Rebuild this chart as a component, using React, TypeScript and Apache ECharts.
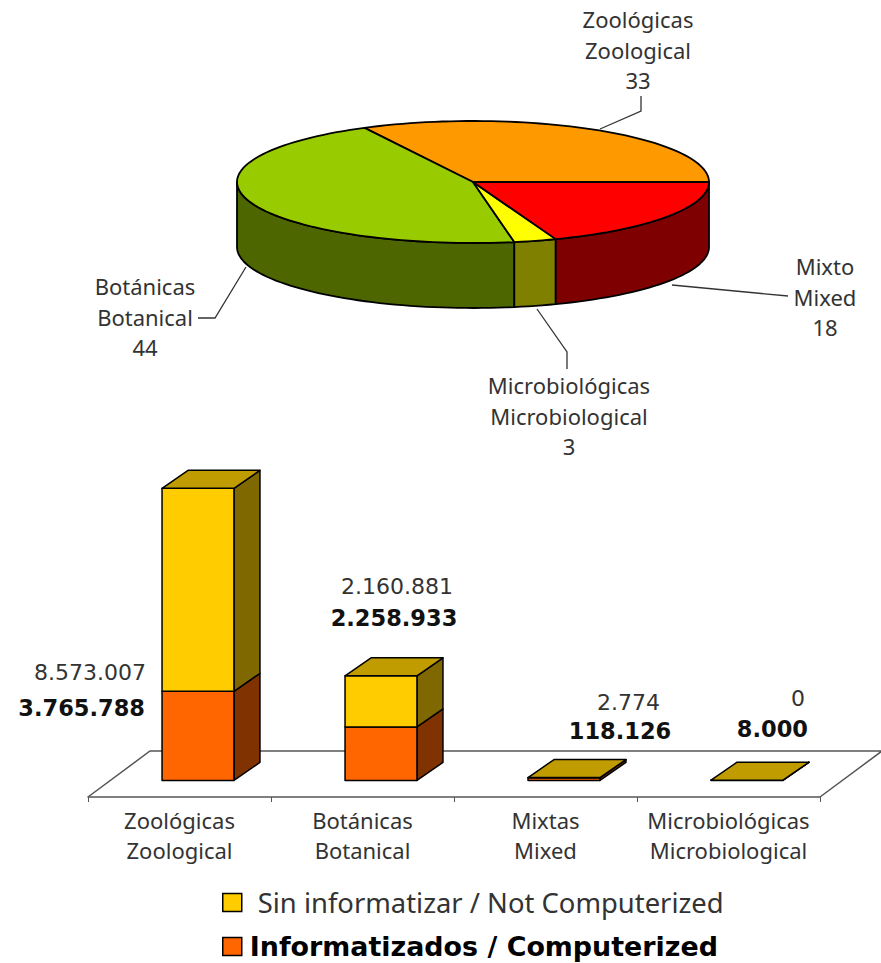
import React, { useEffect, useRef } from "react";
import * as echarts from "echarts";

// ---- data ----
const pieNames = [
  ["Zoológicas", "Zoological"],
  ["Botánicas", "Botanical"],
  ["Microbiológicas", "Microbiological"],
  ["Mixto", "Mixed"],
];
const pieLabelValues = [33, 44, 3, 18];
const pieSliceShares = [32.6, 45.2, 2.9, 19.3];
const pieTopColors = ["#FF9900", "#99CC00", "#FFFF00", "#FF0000"];
const pieSideColors = ["#7F4C00", "#4D6600", "#7F7F00", "#7F0000"];

const barCategories = [
  "Zoológicas\nZoological",
  "Botánicas\nBotanical",
  "Mixtas\nMixed",
  "Microbiológicas\nMicrobiological",
];
const notComputerized = [8573007, 2160881, 2774, 0];
const computerized = [3765788, 2258933, 118126, 8000];
const notName = "Sin informatizar / Not Computerized";
const compName = "Informatizados / Computerized";

// ---- layout ----
const PIE = { cx: 473, cy: 182, rx: 236, ry: 61, depth: 65 };
const BAR_DX = 26;
const BAR_DY = -18;
const BAR_SHIFT = 18.5;
const FLOOR_DX = 62;
const FLOOR_DY = -46;
const FONT = "'Noto Sans', sans-serif";
const NUM = "'DejaVu Sans', sans-serif";
const BOLD = "'DejaVu Sans', sans-serif";
const INK = "#333";

const pieTextLayout = [
  { x: 638, y: 19, line: [[600, 129], [641, 111], [641, 96]] },
  { x: 145, y: 286, line: [[246, 267], [215, 318], [198, 318]] },
  { x: 569, y: 385, line: [[537, 309], [567, 352], [567, 369]] },
  { x: 825, y: 266, line: [[672, 285], [788, 296]] },
];
const barTextLayout = [
  { a: [146, 672, "right"], b: [145, 708, "right"] },
  { a: [397, 586, "center"], b: [394, 618, "center"] },
  { a: [660, 702, "right"], b: [620, 731, "center"] },
  { a: [805, 698, "right"], b: [808, 729, "right"] },
];

const dotted = (v: number) => String(v).replace(/\B(?=(\d{3})+$)/g, ".");

function pt(deg: number, dy = 0) {
  const a = (deg * Math.PI) / 180;
  return [PIE.cx + PIE.rx * Math.cos(a), PIE.cy - PIE.ry * Math.sin(a) + dy];
}
function arc(a0: number, a1: number, dy = 0) {
  const out: number[][] = [];
  const n = Math.max(2, Math.ceil(Math.abs(a1 - a0) / 2));
  for (let i = 0; i <= n; i++) out.push(pt(a0 + ((a1 - a0) * i) / n, dy));
  return out;
}

const renderPie = (_p: any, api: any) => {
  const share0 = api.value(0);
  const share = api.value(1);
  const idx = api.value(2);
  const total = pieSliceShares.reduce((s, v) => s + v, 0);
  const a0 = (share0 / total) * 360;
  const a1 = ((share0 + share) / total) * 360;
  const stroke = { stroke: "#000", lineWidth: 1.8, lineJoin: "round" };
  const children: any[] = [];
  const s0 = Math.max(a0, 180);
  if (a1 > s0) {
    children.push({
      type: "polygon",
      shape: { points: [...arc(s0, a1), ...arc(a1, s0, PIE.depth)] },
      style: { fill: pieSideColors[idx], ...stroke },
    });
  }
  children.push({
    type: "polygon",
    shape: { points: [[PIE.cx, PIE.cy], ...arc(a0, a1)] },
    style: { fill: pieTopColors[idx], ...stroke },
  });
  return { type: "group", children };
};

const renderFloor = (p: any) => {
  const { x, y, width, height } = p.coordSys;
  const bottom = y + height;
  const style = { stroke: "#555", lineWidth: 1.5, fill: "none" };
  return {
    type: "group",
    children: [
      {
        type: "polyline",
        shape: {
          points: [
            [x, bottom],
            [x + FLOOR_DX, bottom + FLOOR_DY],
            [x + width + FLOOR_DX, bottom + FLOOR_DY],
            [x + width, bottom],
          ],
        },
        style,
      },
    ],
  };
};

const makeBarRender = (front: string, side: string, top: string | null) => (_p: any, api: any) => {
  const c = api.value(0);
  const p0 = api.coord([c, api.value(1)]);
  const p1 = api.coord([c, api.value(2)]);
  const w = api.size([1, 0])[0] * 0.393;
  const xl = p0[0] + BAR_SHIFT - w / 2;
  const xr = xl + w;
  const stroke = { stroke: "#000", lineWidth: 1.5, lineJoin: "round" };
  const children: any[] = [
    {
      type: "polygon",
      shape: {
        points: [
          [xr, p0[1]],
          [xr + BAR_DX, p0[1] + BAR_DY],
          [xr + BAR_DX, p1[1] + BAR_DY],
          [xr, p1[1]],
        ],
      },
      style: { fill: side, ...stroke },
    },
    {
      type: "polygon",
      shape: { points: [[xl, p0[1]], [xr, p0[1]], [xr, p1[1]], [xl, p1[1]]] },
      style: { fill: front, ...stroke },
    },
  ];
  if (top) {
    children.push({
      type: "polygon",
      shape: {
        points: [
          [xl, p1[1]],
          [xr, p1[1]],
          [xr + BAR_DX, p1[1] + BAR_DY],
          [xl + BAR_DX, p1[1] + BAR_DY],
        ],
      },
      style: { fill: top, ...stroke },
    });
  }
  return { type: "group", children };
};

function pieGraphics() {
  const els: any[] = [];
  pieNames.forEach((names, i) => {
    const l = pieTextLayout[i];
    els.push({
      type: "polyline",
      silent: true,
      shape: { points: l.line },
      style: { stroke: "#333", lineWidth: 1.3, fill: "none" },
    });
    [...names, String(pieLabelValues[i])].forEach((t, j) => {
      els.push({
        type: "text",
        silent: true,
        x: l.x,
        y: l.y + j * 30.5,
        style: { text: t, fill: INK, font: `22px ${FONT}`, textAlign: "center", textVerticalAlign: "middle" },
      });
    });
  });
  return els;
}

function barGraphics() {
  const els: any[] = [];
  barTextLayout.forEach((l, i) => {
    els.push({
      type: "text",
      silent: true,
      x: l.a[0],
      y: l.a[1],
      style: {
        text: dotted(notComputerized[i]),
        fill: INK,
        font: `22px ${NUM}`,
        textAlign: l.a[2],
        textVerticalAlign: "middle",
      },
    });
    els.push({
      type: "text",
      silent: true,
      x: l.b[0],
      y: l.b[1],
      style: {
        text: dotted(computerized[i]),
        fill: "#111",
        font: `bold 22.5px ${BOLD}`,
        textAlign: l.b[2],
        textVerticalAlign: "middle",
      },
    });
  });
  return els;
}

export default function App() {
  const ref = useRef<HTMLDivElement>(null);
  useEffect(() => {
    const chart = echarts.init(ref.current!, undefined, { renderer: "svg" });
    let acc = 0;
    const pieData = pieSliceShares.map((s, i) => {
      const row = [acc, s, i];
      acc += s;
      return row;
    });
    const compData = computerized.map((v, i) => [i, 0, v]);
    const notData = notComputerized.map((v, i) => [i, computerized[i], computerized[i] + v]);
    chart.setOption({
      animation: false,
      backgroundColor: "#fff",
      grid: { left: 88, right: 61, top: 449, bottom: 166 },
      xAxis: {
        type: "category",
        data: barCategories,
        position: "bottom",
        axisLine: { onZero: false, lineStyle: { color: "#555", width: 1.5 } },
        axisTick: { show: true, length: 5, lineStyle: { color: "#555" } },
        axisLabel: { interval: 0, fontFamily: FONT, fontSize: 22, lineHeight: 30, color: INK, margin: 8 },
        splitLine: { show: false },
      },
      yAxis: {
        type: "value",
        min: -700000,
        max: 14000000,
        show: false,
        splitLine: { show: false },
      },
      legend: [
        {
          data: [notName],
          left: 222,
          top: 889,
          padding: 0,
          icon: "rect",
          itemWidth: 19,
          itemHeight: 18,
          selectedMode: false,
          itemStyle: { borderColor: "#000", borderWidth: 1.5 },
          textStyle: { fontFamily: FONT, fontSize: 27.4, color: INK, padding: [0, 0, 0, 11] },
        },
        {
          data: [compName],
          left: 222,
          top: 933,
          padding: 0,
          icon: "rect",
          itemWidth: 19,
          itemHeight: 18,
          selectedMode: false,
          itemStyle: { borderColor: "#000", borderWidth: 1.5 },
          textStyle: { fontFamily: BOLD, fontWeight: "bold", fontSize: 26.9, color: "#000", padding: [0, 0, 0, 3] },
        },
      ],
      graphic: { elements: [...pieGraphics(), ...barGraphics()] },
      series: [
        {
          type: "custom",
          name: "floor",
          coordinateSystem: "cartesian2d",
          renderItem: renderFloor,
          data: [[0, 0]],
          silent: true,
          z: 1,
        },
        {
          type: "custom",
          name: compName,
          coordinateSystem: "cartesian2d",
          renderItem: makeBarRender("#FF6600", "#803300", null),
          encode: { x: 0, y: [1, 2] },
          data: compData,
          itemStyle: { color: "#FF6600" },
          silent: true,
          z: 3,
        },
        {
          type: "custom",
          name: notName,
          coordinateSystem: "cartesian2d",
          renderItem: makeBarRender("#FFCC00", "#7F6800", "#C09C00"),
          encode: { x: 0, y: [1, 2] },
          data: notData,
          itemStyle: { color: "#FFCC00" },
          silent: true,
          z: 3,
        },
        {
          type: "custom",
          name: "pie",
          coordinateSystem: "none",
          renderItem: renderPie,
          data: pieData,
          silent: true,
          z: 3,
        },
      ],
    });
    return () => chart.dispose();
  }, []);
  return <div ref={ref} style={{ position: "absolute", left: 0, top: 0, width: 881, height: 963 }} />;
}
